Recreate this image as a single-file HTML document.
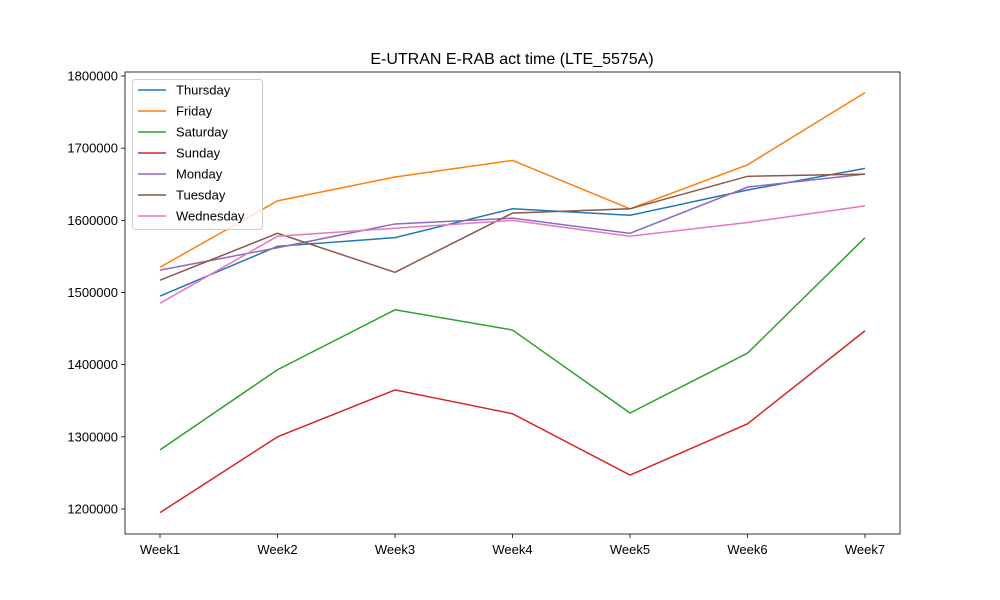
<!DOCTYPE html>
<html><head><meta charset="utf-8"><style>
body{margin:0;background:#fff;}
svg{display:block;font-family:"Liberation Sans","DejaVu Sans",sans-serif;}
</style></head><body>
<svg id="chart" width="1000" height="600"></svg>
<script>
const categories=["Week1","Week2","Week3","Week4","Week5","Week6","Week7"];
const seriesNames=["Thursday","Friday","Saturday","Sunday","Monday","Tuesday","Wednesday"];
const thursday=[1495000,1564000,1576000,1616000,1607000,1642000,1672000];
const friday=[1535000,1627000,1660000,1683000,1616000,1677000,1777000];
const saturday=[1282000,1393000,1476000,1448000,1333000,1416000,1576000];
const sunday=[1195000,1300000,1365000,1332000,1247000,1318000,1447000];
const monday=[1531000,1562000,1595000,1603000,1582000,1646000,1664000];
const tuesday=[1517000,1582000,1528000,1610000,1616000,1661000,1664000];
const wednesday=[1485000,1578000,1589000,1600000,1578000,1597000,1620000];
const yTicks=[1200000,1300000,1400000,1500000,1600000,1700000,1800000];
const colors=["#1f77b4","#ff7f0e","#2ca02c","#d62728","#9467bd","#8c564b","#e377c2"];
const allSeries=[thursday,friday,saturday,sunday,monday,tuesday,wednesday];

const NS="http://www.w3.org/2000/svg";
const svg=document.getElementById('chart');
function mk(tag,attrs,parent){const e=document.createElementNS(NS,tag);for(const k in attrs)e.setAttribute(k,attrs[k]);(parent||svg).appendChild(e);return e;}
const L=125,R=900,T=72,B=534;
function xs(i){return 160+i*(865-160)/(categories.length-1);}
function ys(v){return 509-(v-1200000)/100000*((509-76)/6);}

const title=mk('text',{x:512,y:64,'text-anchor':'middle','font-size':16});


title.textContent="E-UTRAN E-RAB act time (LTE_5575A)";

yTicks.forEach(v=>{
  const y=ys(v);
  const t=mk('line',{x1:L-4,x2:L,y1:y,y2:y,stroke:'#000','stroke-width':0.8});
  
  
  const lb=mk('text',{x:L-7,y:y+4.5,'text-anchor':'end','font-size':13});
  
  
  lb.textContent=v;
});
categories.forEach((c,i)=>{
  const x=xs(i);
  const t=mk('line',{x1:x,x2:x,y1:B,y2:B+4,stroke:'#000','stroke-width':0.8});
  
  
  const lb=mk('text',{x:x,y:B+20,'text-anchor':'middle','font-size':13});
  
  
  lb.textContent=c;
});

allSeries.forEach((s,k)=>{
  const p=mk('polyline',{points:s.map((v,i)=>xs(i)+','+ys(v)).join(' '),fill:'none',stroke:colors[k],'stroke-width':1.5});
  
  
});

const frame=mk('rect',{x:L,y:T,width:R-L,height:B-T,fill:'none',stroke:'#000','stroke-width':0.8});



const lg=mk('g',{});


mk('rect',{x:132.5,y:79.5,width:130,height:150,rx:3,fill:'#fff','fill-opacity':0.8,stroke:'#ccc'},lg);
seriesNames.forEach((n,k)=>{
  const y=90+k*21;
  const g=mk('g',{},lg);
  
  
  mk('line',{x1:138,x2:166,y1:y,y2:y,stroke:colors[k],'stroke-width':1.5},g);
  const t=mk('text',{x:176,y:y+4.5,'font-size':13},g);
  t.textContent=n;
});
</script>
</body></html>
